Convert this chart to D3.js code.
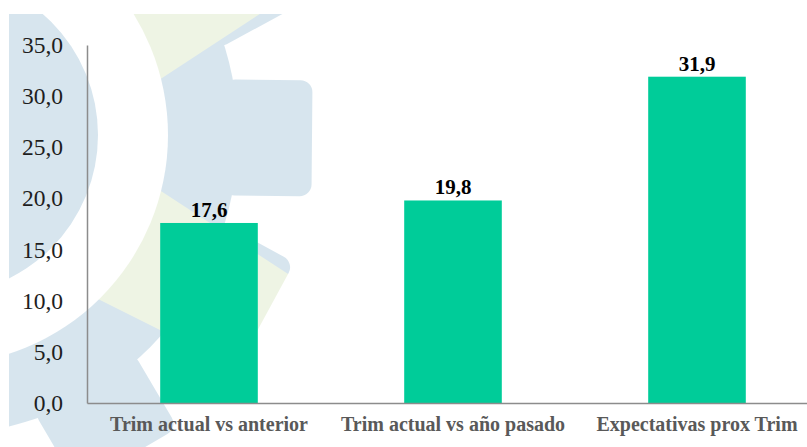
<!DOCTYPE html>
<html>
<head>
<meta charset="utf-8">
<script src="https://cdn.jsdelivr.net/npm/d3@7"></script>
<style>
  body { margin: 0; background: #fff; }
  svg { display: block; }
</style>
</head>
<body>
<div id="barchart"></div>
<script>
var categories = ["Trim actual vs anterior", "Trim actual vs año pasado", "Expectativas prox Trim"];
var values = [17.6, 19.8, 31.9];
var yTicks = [0, 5, 10, 15, 20, 25, 30, 35];

// background logo (gear) pieces, decorative only
var gearCenter = [-62, 135];
var teethAngles = [-58, -28.5, 0.5, 28.5, 59.5, 90];

var width = 807;
var height = 447;
var margin = { top: 45, bottom: 44, left: 87, right: -12 };

var fmt = function (v) { return d3.format(".1f")(v).replace(".", ","); };

var svg = d3.select('#barchart')
    .append('svg')
        .attr('width', width)
        .attr('height', height);

// ---- watermark ----
var defs = svg.append('defs');
defs.append('clipPath').attr('id', 'frame')
    .append('rect').attr('x', 9).attr('y', 14).attr('width', width).attr('height', height);

var mask = defs.append('mask').attr('id', 'ring')
    .attr('maskUnits', 'userSpaceOnUse')
    .attr('x', -600).attr('y', -600).attr('width', 1600).attr('height', 1600);
var mg = mask.append('g').attr('transform', 'translate(' + gearCenter + ')');
mg.append('circle').attr('r', 300).attr('fill', '#fff');
mg.selectAll('rect.tooth')
    .data(teethAngles)
    .enter()
    .append('rect')
        .attr('x', 285).attr('y', -58)
        .attr('width', 89).attr('height', 116)
        .attr('rx', 12)
        .attr('fill', '#fff')
        .attr('transform', function (d) { return 'rotate(' + d + ')'; });
mg.append('circle').attr('r', 230).attr('fill', '#000');

var wm = svg.append('g').attr('clip-path', 'url(#frame)');
wm.append('circle')
    .attr('cx', gearCenter[0]).attr('cy', gearCenter[1])
    .attr('r', 160)
    .attr('fill', '#d7e5ee');

var ring = wm.append('g').attr('mask', 'url(#ring)');
ring.append('rect').attr('x', -600).attr('y', -600).attr('width', 1600).attr('height', 1600)
    .attr('fill', '#d7e5ee');
ring.append('path')
    .attr('d', 'M75,135L330,-32L330,-400L-400,-400L-400,135Z')
    .attr('fill', '#eef4e4');
ring.append('path')
    .attr('d', 'M75,135L420,360L420,460L100,300L20,260Z')
    .attr('fill', '#eef4e4');

// ---- chart ----
var xScale = d3.scaleBand()
    .domain(categories)
    .range([margin.left, width - margin.right])
    .paddingInner(0.6)
    .paddingOuter(0.3);

var yScale = d3.scaleLinear()
    .domain([0, 35])
    .range([height - margin.bottom, margin.top]);

// y axis
var yAxis = d3.axisLeft(yScale)
    .tickValues(yTicks)
    .tickFormat(fmt)
    .tickSize(0)
    .tickPadding(24);
var gy = svg.append('g')
    .attr('class', 'y axis')
    .attr('transform', 'translate(' + margin.left + ',0)')
    .call(yAxis);
gy.select('.domain').attr('stroke', '#8c8c8c').attr('stroke-width', 1.5);
gy.selectAll('text')
    .attr('fill', '#1e1e1e')
    .style('font-family', '"Liberation Serif", "Times New Roman", serif')
    .style('font-size', '23.5px');

// bars
svg.selectAll('rect.bar')
    .data(values)
    .enter()
    .append('rect')
        .attr('class', 'bar')
        .attr('x', function (d, i) { return xScale(categories[i]); })
        .attr('y', function (d) { return yScale(d); })
        .attr('width', xScale.bandwidth())
        .attr('height', function (d) { return yScale(0) - yScale(d); })
        .attr('fill', '#00cc99');

// x axis
var xAxis = d3.axisBottom(xScale).tickSize(0).tickSizeOuter(0).tickPadding(14);
var gx = svg.append('g')
    .attr('class', 'x axis')
    .attr('transform', 'translate(0,' + yScale(0) + ')')
    .call(xAxis);
gx.select('.domain').attr('stroke', '#8c8c8c').attr('stroke-width', 1.5);
gx.selectAll('text')
    .attr('fill', '#595959')
    .style('font-family', '"Liberation Serif", "Times New Roman", serif')
    .style('font-weight', 'bold')
    .style('font-size', '20px');

// value labels
svg.selectAll('text.value')
    .data(values)
    .enter()
    .append('text')
        .attr('class', 'value')
        .attr('x', function (d, i) { return xScale(categories[i]) + xScale.bandwidth() / 2; })
        .attr('y', function (d) { return yScale(d) - 6; })
        .attr('text-anchor', 'middle')
        .attr('fill', '#000')
        .style('font-family', '"Liberation Serif", "Times New Roman", serif')
        .style('font-weight', 'bold')
        .style('font-size', '21px')
        .text(fmt);
</script>
</body>
</html>
